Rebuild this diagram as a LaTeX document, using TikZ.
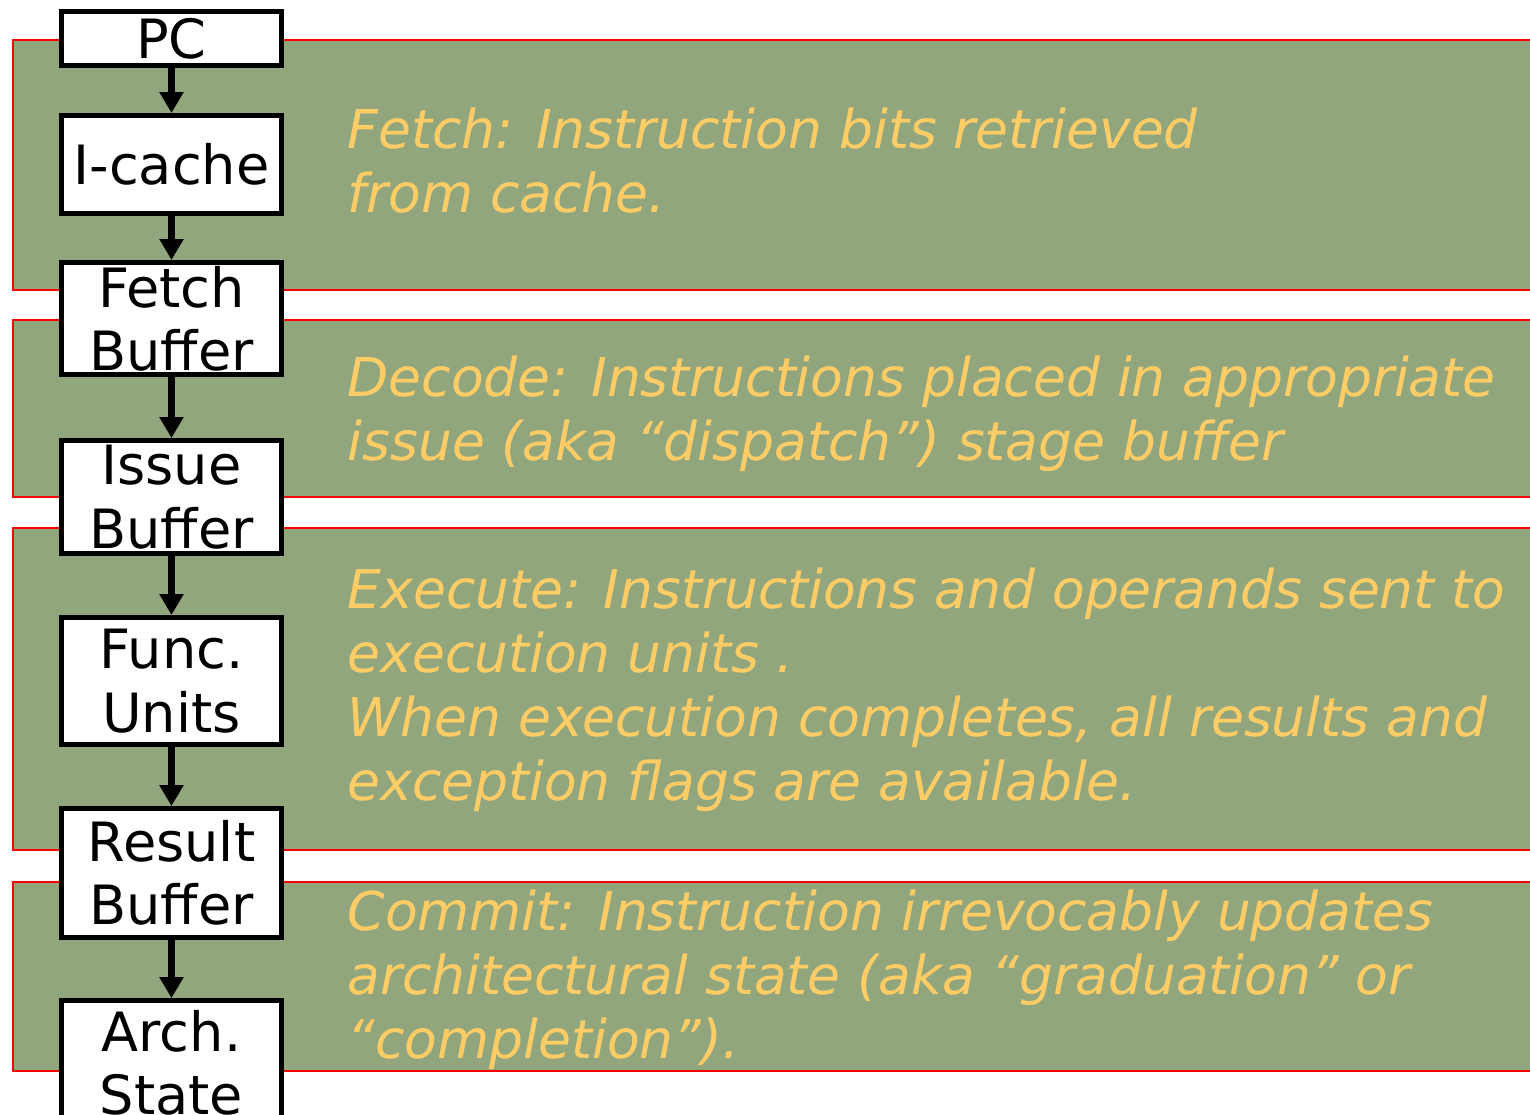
\documentclass[tikz,border=0pt]{standalone}
\usepackage{fontspec}
\setmainfont{DejaVu Sans}
\usetikzlibrary{arrows.meta, positioning}
\definecolor{stagegreen}{RGB}{146,166,125}
\definecolor{stagetext}{RGB}{255,204,102}
\definecolor{stagered}{RGB}{255,0,0}

\begin{document}
\begin{tikzpicture}[x=0.01cm, y=-0.01cm, >={Triangle[width=0.23cm,length=0.21cm]},
    unit/.style={draw, line width=1.4pt, fill=white, minimum width=2.2cm, align=center, inner sep=0pt, font=\fontsize{15.4}{18}\selectfont},
    band/.style={draw=stagered, line width=0.6pt, fill=stagegreen},
    note/.style={anchor=west, align=left, text=stagetext, inner sep=0pt, font=\fontsize{15.2}{18.2}\selectfont\itshape}]
    \clip (0,0) rectangle (1530,1114);
    % Stage bands
    \draw[band] (13,40) rectangle (1545,290);
    \draw[band] (13,320) rectangle (1545,497);
    \draw[band] (13,528) rectangle (1545,850);
    \draw[band] (13,882) rectangle (1545,1071);
    % Stage notes
    \node[note] (fetchnote) at (347,161) {Fetch: Instruction bits retrieved\\from cache.};
    \node[note] (decodenote) at (347,414) {Decode: Instructions placed in appropriate\\issue (aka “dispatch”) stage buffer};
    \node[note] (execnote) at (347,690) {Execute: Instructions and operands sent to\\execution units .\\When execution completes, all results and\\exception flags are available.};
    \node[note] (commitnote) at (347,980) {Commit: Instruction irrevocably updates\\architectural state (aka “graduation” or\\“completion”).};
    % Pipeline units
    \node[unit, minimum height=0.54cm] (pc) at (171.5,38.5) {PC};
    \node[unit, minimum height=0.98cm, below=0.45cm of pc] (icache) {I-cache};
    \node[unit, minimum height=1.12cm, below=0.44cm of icache] (fetchbuf) {Fetch\\Buffer};
    \node[unit, minimum height=1.13cm, below=0.61cm of fetchbuf] (issuebuf) {Issue\\Buffer};
    \node[unit, minimum height=1.27cm, below=0.59cm of issuebuf] (funcunits) {Func.\\Units};
    \node[unit, minimum height=1.29cm, below=0.59cm of funcunits] (resultbuf) {Result\\Buffer};
    \node[unit, minimum height=1.25cm, below=0.58cm of resultbuf] (archstate) {Arch.\\State};
    % Edges
    \foreach \src/\dst in {pc/icache,icache/fetchbuf,fetchbuf/issuebuf,issuebuf/funcunits,funcunits/resultbuf,resultbuf/archstate}
    {\draw[->, line width=2pt] (\src) -- (\dst);}
\end{tikzpicture}
\end{document}
